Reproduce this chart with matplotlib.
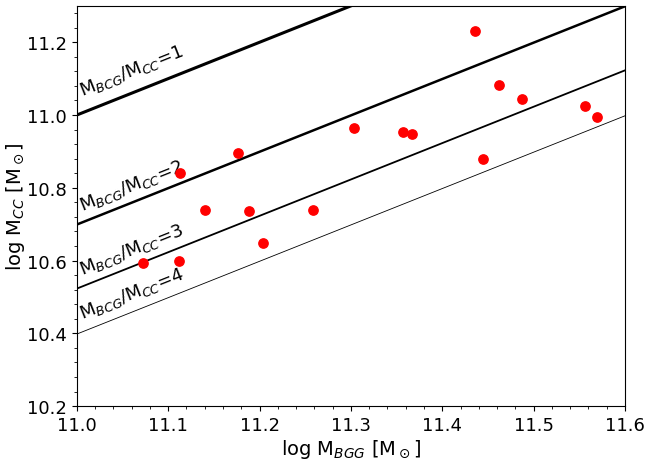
import numpy as np
import matplotlib
matplotlib.use('Agg')
import matplotlib.pyplot as plt
from matplotlib.ticker import MultipleLocator

# measured points
log_m_bgg = [11.072, 11.112, 11.113, 11.140, 11.177, 11.189, 11.204, 11.258, 11.303,
             11.357, 11.367, 11.436, 11.445, 11.462, 11.487, 11.556, 11.569]
log_m_cc = [10.593, 10.599, 10.841, 10.739, 10.896, 10.736, 10.648, 10.739, 10.965,
            10.954, 10.948, 11.232, 10.880, 11.083, 11.045, 11.025, 10.995]

# mass ratio lines
ratios = [1, 2, 3, 4]
line_widths = [2.2, 1.8, 1.3, 0.6]
label_y = [11.055, 10.738, 10.563, 10.442]

fig = plt.figure(figsize=(6.45, 4.6), dpi=100)
ax = fig.add_axes([0.119, 0.115, 0.85, 0.87])

xx = np.array([11.0, 11.6])
for r, lw, ly in zip(ratios, line_widths, label_y):
    ax.plot(xx, xx - np.log10(r), color='k', lw=lw)
    ax.text(11.006, ly, r'M$_{BCG}$/M$_{CC}$=%d' % r, rotation=21.7,
            rotation_mode='anchor', fontsize=13, ha='left', va='baseline')

ax.scatter(log_m_bgg, log_m_cc, color='red', s=45, zorder=3)

ax.set_xlim(11.0, 11.6)
ax.set_ylim(10.2, 11.3)
ax.set_yticks([10.2, 10.4, 10.6, 10.8, 11.0, 11.2])
ax.xaxis.set_minor_locator(MultipleLocator(0.02))
ax.yaxis.set_minor_locator(MultipleLocator(0.04))
ax.tick_params(labelsize=13)
ax.set_xlabel(r'log M$_{BGG}$ [M$_\odot$]', fontsize=14, labelpad=2)
ax.set_ylabel(r'log M$_{CC}$ [M$_\odot$]', fontsize=14)
ax.yaxis.set_label_coords(-0.091, 0.5)

fig.savefig('out.png', dpi=100)
